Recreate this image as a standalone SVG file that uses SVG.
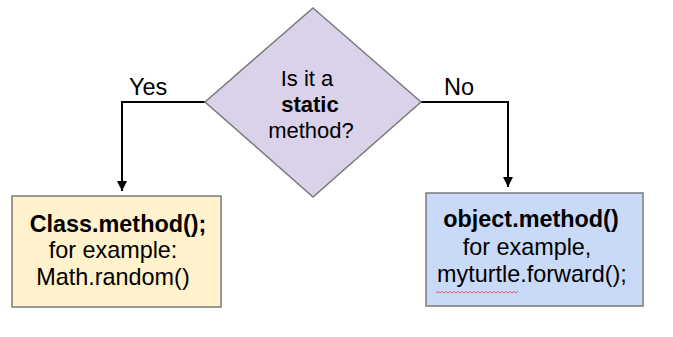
<svg xmlns="http://www.w3.org/2000/svg" width="673" height="337" viewBox="0 0 673 337">
<style>
text{font-family:"Liberation Sans",Arial,sans-serif;fill:#000;text-anchor:middle}
.t{font-size:22px}
.bx{font-size:23.4px}
.b{font-weight:bold}
.lbl{font-size:23.5px;text-anchor:start}
.edge{fill:none;stroke:#000;stroke-width:2}
.node{stroke:#7a7a7a;stroke-width:1.5}
</style>
<defs>
<marker id="ah" viewBox="0 0 10 10" refX="10" refY="5" markerWidth="10" markerHeight="10" markerUnits="userSpaceOnUse" orient="auto">
<path d="M0,0 L10,5 L0,10 z" fill="#000"/>
</marker>
</defs>
<rect width="673" height="337" fill="#fff"/>
<g id="connectors">
<path class="edge" d="M205,102 H122 V191" marker-end="url(#ah)"/>
<path class="edge" d="M421,102 H508 V187" marker-end="url(#ah)"/>
<text class="lbl" x="129" y="95">Yes</text>
<text class="lbl" x="444" y="95">No</text>
</g>
<g id="decision">
<polygon class="node" points="313,8 421,102 313,197 205,102" fill="#d9d2e9"/>
<text class="t" x="307" y="86">Is it a</text>
<text class="t b" x="310" y="112">static</text>
<text class="t" x="311" y="138">method?</text>
</g>
<g id="static-box">
<rect class="node" x="12" y="196" width="209" height="111" fill="#fff2cc"/>
<text class="bx b" x="118" y="232">Class.method();</text>
<text class="bx" x="113" y="258">for example:</text>
<text class="bx" x="113" y="285">Math.random()</text>
</g>
<g id="object-box">
<rect class="node" x="426" y="193" width="217" height="113" fill="#c9daf8"/>
<text class="bx b" x="531" y="227">object.method()</text>
<text class="bx" x="527" y="255">for example,</text>
<text class="bx" x="532" y="282">myturtle.forward();</text>
<path d="M436,293 l2,-1.5 l2,1.5 l2,-1.5 l2,1.5 l2,-1.5 l2,1.5 l2,-1.5 l2,1.5 l2,-1.5 l2,1.5 l2,-1.5 l2,1.5 l2,-1.5 l2,1.5 l2,-1.5 l2,1.5 l2,-1.5 l2,1.5 l2,-1.5 l2,1.5 l2,-1.5 l2,1.5 l2,-1.5 l2,1.5 l2,-1.5 l2,1.5 l2,-1.5 l2,1.5 l2,-1.5 l2,1.5 l2,-1.5 l2,1.5 l2,-1.5 l2,1.5 l2,-1.5 l2,1.5 l2,-1.5 l2,1.5 l2,-1.5 l2,1.5 l2,-1.5" fill="none" stroke="#e06060" stroke-width="1"/>
</g>
</svg>
